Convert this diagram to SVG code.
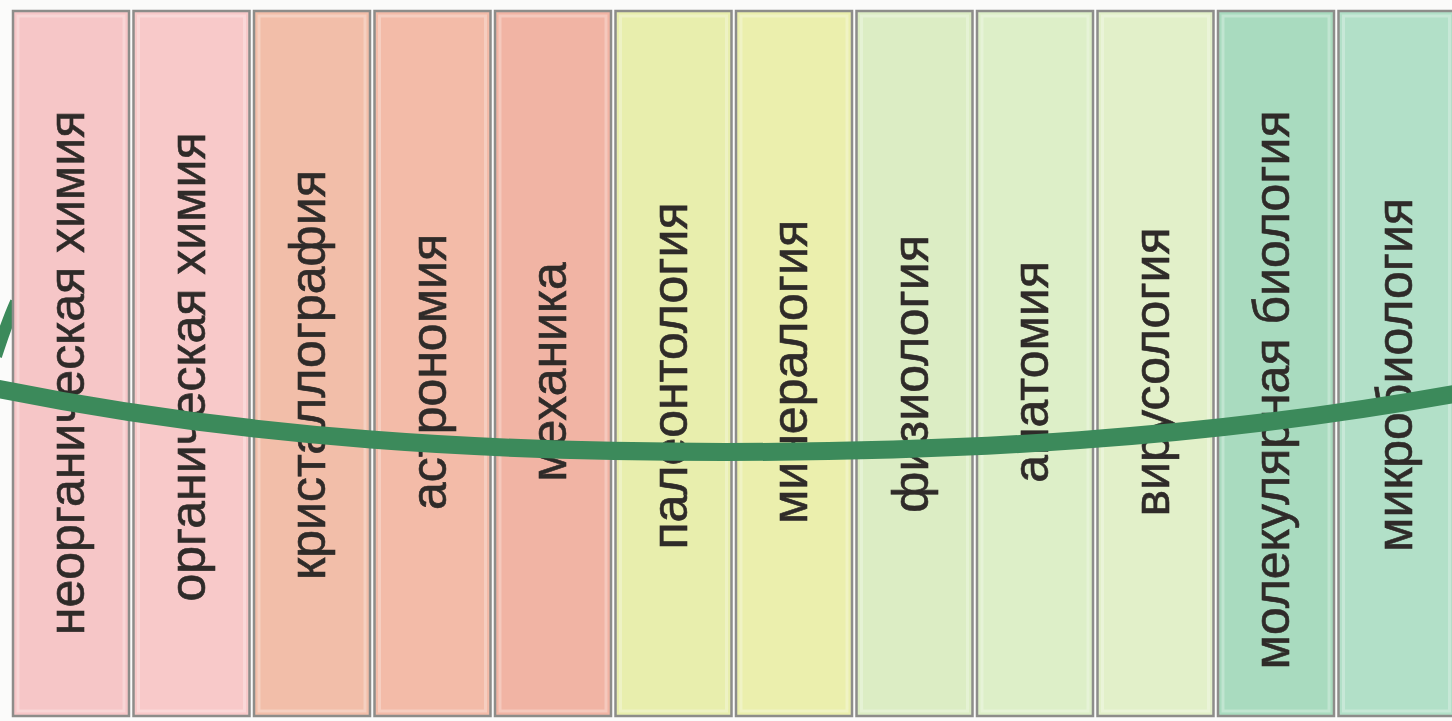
<svg xmlns="http://www.w3.org/2000/svg" width="1452" height="721" viewBox="0 0 1452 721">
<style>
.panel{stroke:#8d8d8a;stroke-width:2.5}
.inner{fill:none;stroke:#ffffff;stroke-opacity:0.28;stroke-width:3}
.lbl{font-family:"Liberation Sans",Arial,sans-serif;font-size:50px;fill:#2f2b29;stroke:#2f2b29;stroke-width:0.6;text-anchor:middle}
.band{fill:none;stroke:#3c8a5b;stroke-linecap:butt}
</style>
<rect width="1452" height="721" fill="#fbfbfa"/>
<g id="connectors-back">
<path class="band" d="M -4 356 C 2 338, 7 322, 16 302" stroke-width="12"/>
</g>
<g id="n1"><rect class="panel" x="13" y="11" width="116" height="705" fill="#f6c6c7"/><rect class="inner" x="18" y="16" width="106" height="695"/><text class="lbl" transform="translate(84,373) rotate(-90)">неорганическая химия</text></g>
<g id="n2"><rect class="panel" x="133.5" y="11" width="116" height="705" fill="#f8c9c9"/><rect class="inner" x="138.5" y="16" width="106" height="695"/><text class="lbl" transform="translate(204.5,367) rotate(-90)">органическая химия</text></g>
<g id="n3"><rect class="panel" x="254" y="11" width="116" height="705" fill="#f2bea9"/><rect class="inner" x="259" y="16" width="106" height="695"/><text class="lbl" transform="translate(325,375) rotate(-90)">кристаллография</text></g>
<g id="n4"><rect class="panel" x="374.5" y="11" width="116" height="705" fill="#f3bba8"/><rect class="inner" x="379.5" y="16" width="106" height="695"/><text class="lbl" transform="translate(445.5,372) rotate(-90)">астрономия</text></g>
<g id="n5"><rect class="panel" x="495" y="11" width="116" height="705" fill="#f1b4a4"/><rect class="inner" x="500" y="16" width="106" height="695"/><text class="lbl" transform="translate(566,372) rotate(-90)">механика</text></g>
<g id="n6"><rect class="panel" x="615.5" y="11" width="116" height="705" fill="#e8eead"/><rect class="inner" x="620.5" y="16" width="106" height="695"/><text class="lbl" transform="translate(686.5,376) rotate(-90)">палеонтология</text></g>
<g id="n7"><rect class="panel" x="736" y="11" width="116" height="705" fill="#ebefad"/><rect class="inner" x="741" y="16" width="106" height="695"/><text class="lbl" transform="translate(807,372) rotate(-90)">минералогия</text></g>
<g id="n8"><rect class="panel" x="856.5" y="11" width="116" height="705" fill="#dcedc4"/><rect class="inner" x="861.5" y="16" width="106" height="695"/><text class="lbl" transform="translate(927.5,374) rotate(-90)">физиология</text></g>
<g id="n9"><rect class="panel" x="977" y="11" width="116" height="705" fill="#ddefc8"/><rect class="inner" x="982" y="16" width="106" height="695"/><text class="lbl" transform="translate(1048,372) rotate(-90)">анатомия</text></g>
<g id="n10"><rect class="panel" x="1097.5" y="11" width="116" height="705" fill="#e2f0c9"/><rect class="inner" x="1102.5" y="16" width="106" height="695"/><text class="lbl" transform="translate(1168.5,372) rotate(-90)">вирусология</text></g>
<g id="n11"><rect class="panel" x="1218" y="11" width="116" height="705" fill="#a9dbbf"/><rect class="inner" x="1223" y="16" width="106" height="695"/><text class="lbl" transform="translate(1289,390) rotate(-90)">молекулярная биология</text></g>
<g id="n12"><rect class="panel" x="1338.5" y="11" width="116" height="705" fill="#b2e0c8"/><rect class="inner" x="1343.5" y="16" width="106" height="695"/><text class="lbl" transform="translate(1412,375) rotate(-90)">микробиология</text></g>
<g id="connectors">
<path class="band" d="M -6 388 C 250 440, 500 452, 725 452 C 950 452, 1200 440, 1460 393" stroke-width="18"/>
</g>
</svg>
